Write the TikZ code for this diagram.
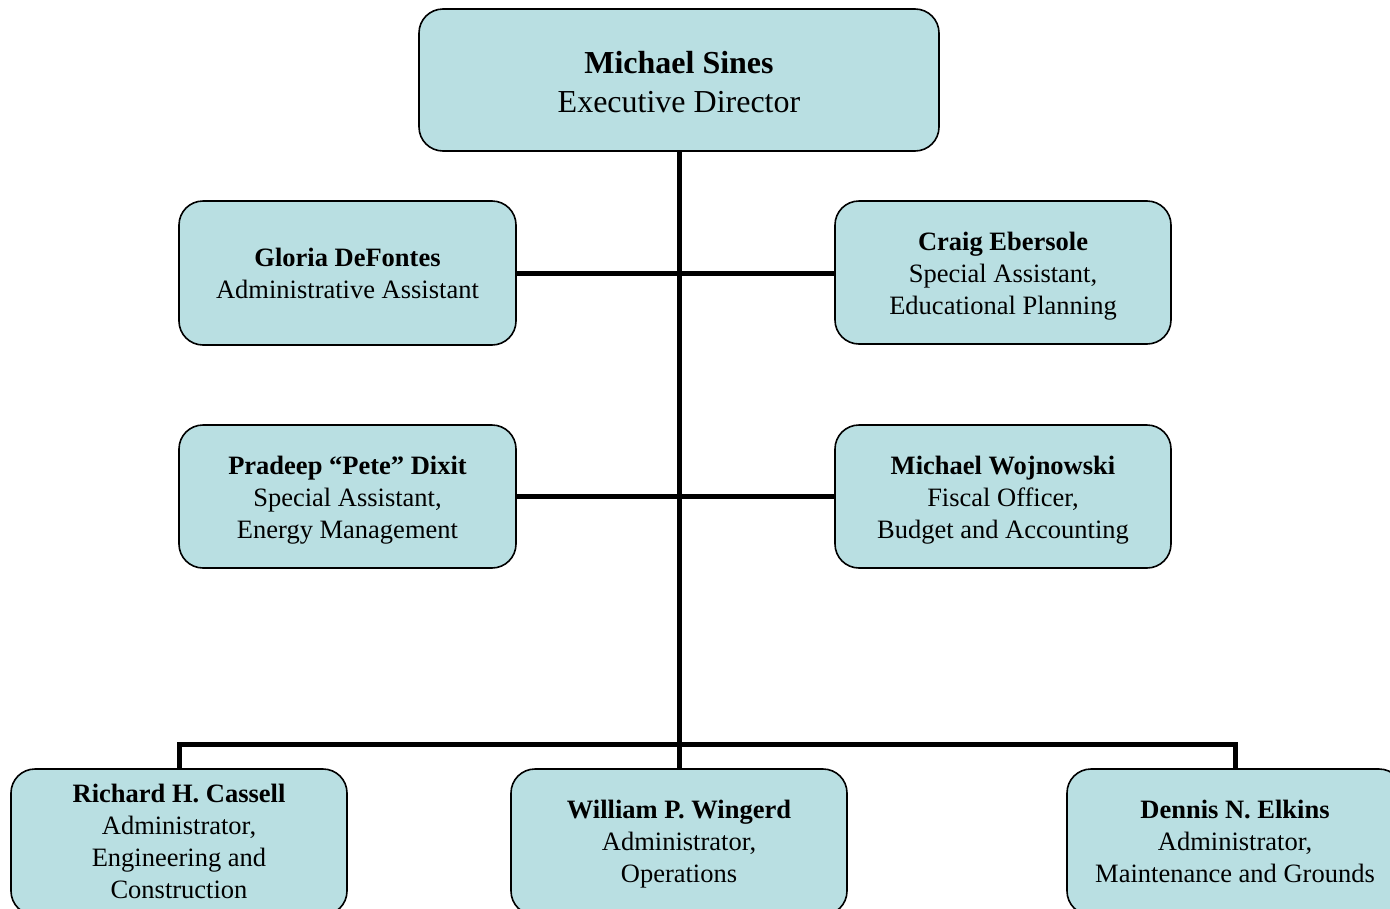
\documentclass[tikz,border=0pt]{standalone}
\usepackage{fontspec}
\setmainfont{Liberation Serif}
\usetikzlibrary{backgrounds}
\definecolor{boxfill}{RGB}{185,223,226}
\tikzset{
  orgbox/.style={draw=black, line width=1.6pt, fill=boxfill, rounded corners=24pt,
    inner sep=0pt},
  orgtext/.style={inner sep=0pt, align=center, text=black,
    font=\fontsize{26.5}{32}\selectfont},
  toptext/.style={orgtext, font=\fontsize{32}{39}\selectfont},
  link/.style={draw=black, line width=5pt}
}
\begin{document}
\begin{tikzpicture}[x=1pt,y=-1pt]
\useasboundingbox (0,0) rectangle (1390,908);
\clip (0,0) rectangle (1390,908);
% boxes
\node[orgbox, minimum width=520pt, minimum height=142pt] (top) at (679,80) {};
\node[orgbox, minimum width=337pt, minimum height=144pt] (gloria) at (347.5,273) {};
\node[orgbox, minimum width=336pt, minimum height=143pt] (craig) at (1003,272.5) {};
\node[orgbox, minimum width=337pt, minimum height=143pt] (pete) at (347.5,496.5) {};
\node[orgbox, minimum width=336pt, minimum height=143pt] (mw) at (1003,496.5) {};
\node[orgbox, minimum width=336pt, minimum height=146pt] (cassell) at (179,842) {};
\node[orgbox, minimum width=336pt, minimum height=146pt] (wingerd) at (679,842) {};
\node[orgbox, minimum width=336pt, minimum height=146pt] (elkins) at (1235,842) {};
% texts
\node[toptext] (top-t) at (679,82) {\textbf{Michael Sines}\\Executive Director};
\node[orgtext] (gloria-t) at (347.5,273) {\textbf{Gloria DeFontes}\\Administrative Assistant};
\node[orgtext] (craig-t) at (1003,276.5) {\textbf{Craig Ebersole}\\Special Assistant,\\Educational Planning};
\node[orgtext] (pete-t) at (347.5,500.5) {\textbf{Pradeep “Pete” Dixit}\\Special Assistant,\\Energy Management};
\node[orgtext] (mw-t) at (1003,500.5) {\textbf{Michael Wojnowski}\\Fiscal Officer,\\Budget and Accounting};
\node[orgtext] (cassell-t) at (179,841) {\textbf{Richard H. Cassell}\\Administrator,\\Engineering and\\Construction};
\node[orgtext] (wingerd-t) at (679,844) {\textbf{William P. Wingerd}\\Administrator,\\Operations};
\node[orgtext] (elkins-t) at (1235,841) {\textbf{Dennis N. Elkins}\\Administrator,\\Maintenance and Grounds};
% connectors
\coordinate (bus) at (679,744);
\begin{scope}[on background layer]
\draw[link] (top.south) -- (wingerd.north);
\draw[link] (gloria.east) -- (gloria.east -| craig.west);
\draw[link] (pete.east) -- (pete.east -| mw.west);
\draw[link] (cassell.north) |- (bus) -| (elkins.north);
\end{scope}
\end{tikzpicture}
\end{document}
